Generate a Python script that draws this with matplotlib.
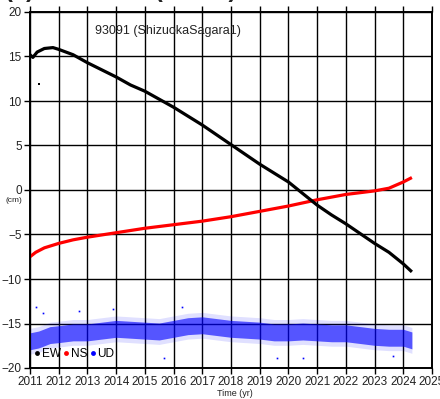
import matplotlib
matplotlib.use('Agg')
import matplotlib.pyplot as plt
from matplotlib.lines import Line2D
import numpy as np

plt.rcParams['font.family'] = ['Liberation Sans', 'Noto Sans CJK JP', 'DejaVu Sans']

# EW (black), cm
ew_t = [2011.0, 2011.1, 2011.25, 2011.5, 2011.8, 2012.0, 2012.5, 2013.0, 2013.5,
        2014.0, 2014.5, 2015.0, 2015.5, 2016.0, 2016.5, 2017.0, 2017.5, 2018.0,
        2018.5, 2019.0, 2019.5, 2020.0, 2020.5, 2021.0, 2021.5, 2022.0, 2022.5,
        2023.0, 2023.5, 2024.0, 2024.3]
ew_v = [15.2, 14.9, 15.5, 15.9, 16.0, 15.8, 15.2, 14.3, 13.5,
        12.7, 11.8, 11.1, 10.2, 9.3, 8.3, 7.3, 6.2, 5.1,
        4.0, 2.9, 1.9, 0.9, -0.4, -1.7, -2.8, -3.8, -4.9,
        -6.0, -7.0, -8.3, -9.2]

# NS (red)
ns_t = [2011.0, 2011.2, 2011.5, 2012.0, 2012.5, 2013.0, 2014.0, 2015.0, 2016.0,
        2017.0, 2018.0, 2019.0, 2020.0, 2021.0, 2022.0, 2023.0, 2023.5, 2024.0, 2024.3]
ns_v = [-7.5, -7.0, -6.5, -6.0, -5.6, -5.3, -4.8, -4.3, -3.9,
        -3.5, -3.0, -2.4, -1.8, -1.1, -0.5, -0.1, 0.2, 0.9, 1.4]

# UD (blue): centre of the band and its half width
ud_t = [2011.0, 2011.3, 2011.7, 2012.0, 2012.5, 2013.0, 2013.5, 2014.0, 2014.5,
        2015.0, 2015.5, 2016.0, 2016.5, 2017.0, 2017.5, 2018.0, 2018.5, 2019.0,
        2019.5, 2020.0, 2020.5, 2021.0, 2021.5, 2022.0, 2022.5, 2023.0, 2023.5,
        2024.0, 2024.3]
ud_v = [-17.0, -16.8, -16.3, -16.2, -16.0, -16.0, -15.8, -15.6, -15.7,
        -15.8, -15.9, -15.6, -15.3, -15.2, -15.4, -15.6, -15.7, -15.8,
        -16.0, -16.0, -15.9, -16.0, -16.1, -16.1, -16.3, -16.5, -16.6,
        -16.6, -16.9]
ud_core = 0.95
ud_outer = 1.45

# stray points
ew_out_t = [2011.3]
ew_out_v = [11.9]
ud_out_t = [2011.2, 2011.45, 2012.7, 2013.9, 2015.65, 2016.3, 2019.6, 2020.5, 2023.65]
ud_out_v = [-13.1, -13.8, -13.6, -13.4, -18.9, -13.1, -18.9, -18.9, -18.65]

fig = plt.figure(figsize=(4.4, 3.99), dpi=100)
ax = fig.add_axes([30/440, 1-368/399, 402/440, 356/399])

t = np.array(ud_t)
c = np.array(ud_v)
ax.fill_between(t, c-ud_outer, c+ud_outer, color='blue', alpha=0.12, lw=0)
ax.fill_between(t, c-ud_core, c+ud_core, color='blue', alpha=0.62, lw=0)
ax.plot(ud_out_t, ud_out_v, 's', color='blue', ms=1.2, mew=0)

ax.plot(ns_t, ns_v, color='red', lw=2.3, solid_capstyle='butt')
ax.plot(ew_t, ew_v, color='black', lw=2.3, solid_capstyle='butt')
ax.plot(ew_out_t, ew_out_v, 's', color='black', ms=1.5, mew=0)

ax.set_xlim(2011, 2025)
ax.set_ylim(-20, 20)
ax.set_xticks(range(2011, 2026))
ax.set_yticks(range(-20, 21, 5))
ax.set_yticklabels([str(v).replace('-', '\u2212') for v in range(-20, 21, 5)])
ax.grid(True, color='black', lw=1.0)
ax.set_axisbelow(True)
for s in ax.spines.values():
    s.set_linewidth(1.4)
ax.tick_params(direction='out', length=4, width=1, top=True, labelsize=8.5,
               labelcolor='#222222', pad=2)

ax.text(0.162, 0.947, '93091 (ShizuokaSagara1)', transform=ax.transAxes,
        fontsize=9, va='center', ha='left', color='#222222')

handles = [Line2D([], [], ls='none', marker='o', ms=3.5, color=col, mew=0)
           for col in ['black', 'red', 'blue']]
ax.legend(handles, ['EW', 'NS', 'UD'], loc='lower left', bbox_to_anchor=(-0.01, 0.0),
          ncol=3, frameon=False, fontsize=8.5, handlelength=0.5, handletextpad=0.15,
          columnspacing=0.2, borderaxespad=0.3)

fig.text(14/440, 1-201/399, '(cm)', fontsize=6, ha='center', va='center', color='#222222')
fig.text(235/440, 1-393/399, 'Time (yr)', fontsize=6.5, ha='center', va='center',
         color='#222222')
fig.text(5/440, 1+3/399, '(  ) 静岡相良1 (93091)', fontsize=17, fontweight='bold',
         ha='left', va='baseline', color='#222222')

fig.savefig('out.png', dpi=100)
